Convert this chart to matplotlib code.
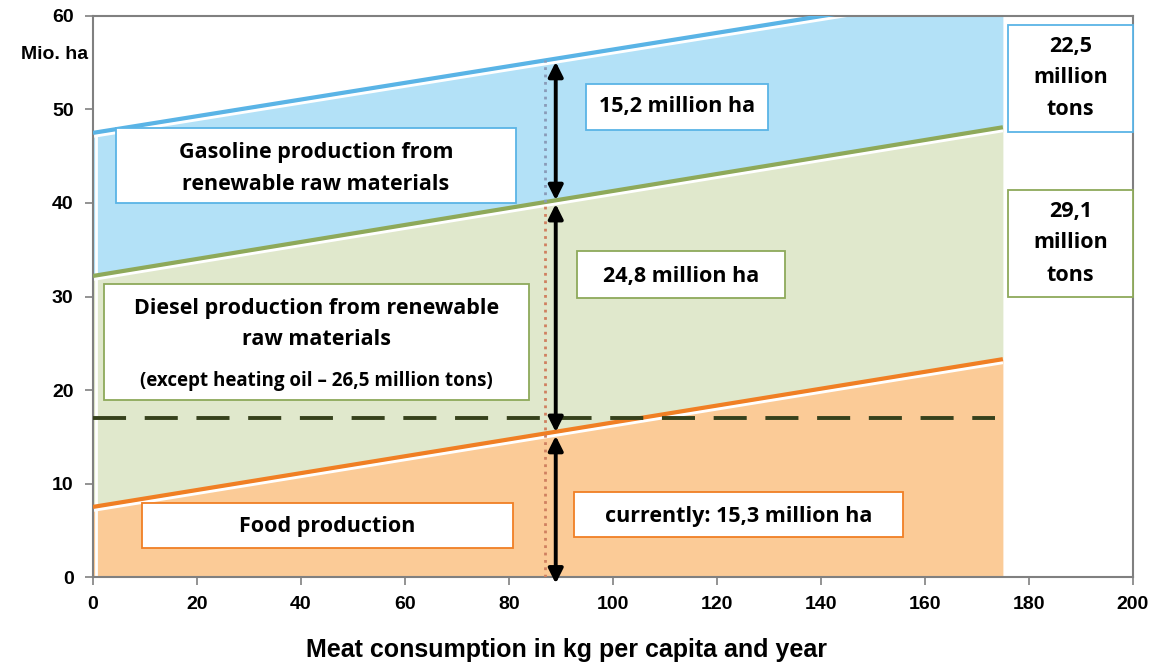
import numpy as np
import matplotlib.pyplot as plt
from matplotlib.patches import Rectangle

# land demand (Mio. ha) over meat consumption (kg per capita and year)
meat = [0, 175]
food = [7.5, 23.3]
diesel = [32.2, 48.1]
gasoline = [47.5, 63.1]
heating_oil_level = 17.0
current_meat = 87
current_food = 15.3
current_diesel = 40.1
current_gasoline = 55.3

C_ORANGE, F_ORANGE = '#f07f24', '#fbcb97'
C_GREEN, F_GREEN = '#8ea95a', '#e0e8cc'
C_BLUE, F_BLUE = '#5ab4e6', '#b3e1f7'

plt.rcParams['font.family'] = ['Liberation Sans', 'DejaVu Sans']
BOX_FONT = ['Open Sans', 'DejaVu Sans']
BIG = 15.5
SMALL = 13.5

fig = plt.figure(figsize=(11.58, 6.66), dpi=100)
ax = fig.add_axes([0.0803, 0.1336, 0.898, 0.8424])

# stacked areas
ax.fill_between(meat, 0, food, color=F_ORANGE, lw=0, zorder=1)
ax.fill_between(meat, food, diesel, color=F_GREEN, lw=0, zorder=1)
ax.fill_between(meat, diesel, gasoline, color=F_BLUE, lw=0, zorder=1)
ax.axvline(0.6, color='white', lw=2, zorder=1.5)

# boundary lines with a white seam underneath
for ys, col in [(food, C_ORANGE), (diesel, C_GREEN), (gasoline, C_BLUE)]:
    ax.plot(meat, np.array(ys) - 0.35, color='white', lw=2.5, zorder=2,
            solid_capstyle='butt')
    ax.plot(meat, ys, color=col, lw=3, zorder=3, solid_capstyle='butt')

# heating oil threshold
ax.plot([0, 173.5], [heating_oil_level] * 2, color='#36411c', lw=2.8,
        dashes=(8.5, 4.8), zorder=4)

# current consumption marker
ax.plot([current_meat] * 2, [current_diesel, current_gasoline], color='#8a9bb8',
        lw=2, ls=':', zorder=4)
ax.plot([current_meat] * 2, [0, current_diesel], color='#d08060',
        lw=2, ls=':', zorder=4)

arrow_x = current_meat + 2
for y0, y1 in [(-0.9, current_food), (current_food, current_diesel),
               (current_diesel, current_gasoline)]:
    ax.annotate('', xy=(arrow_x, y1 - 0.2), xytext=(arrow_x, y0 + 0.2),
                arrowprops=dict(arrowstyle='<|-|>', color='black', lw=2.8,
                                mutation_scale=22, shrinkA=0, shrinkB=0),
                zorder=5, annotation_clip=False)


def label_box(x0, x1, y0, y1, edge, lines, sizes, ys):
    ax.add_patch(Rectangle((x0, y0), x1 - x0, y1 - y0, facecolor='white',
                           edgecolor=edge, lw=1.3, zorder=6, clip_on=False))
    for txt, fs, yy in zip(lines, sizes, ys):
        ax.text((x0 + x1) / 2, yy, txt, ha='center', va='center', fontsize=fs,
                fontweight='bold', family=BOX_FONT, zorder=7, clip_on=False)


def px(x):
    return (x - 93) / 5.2


def py(y):
    return (577 - y) / 9.35


label_box(px(116), px(516), py(203), py(128), C_BLUE,
          ['Gasoline production from', 'renewable raw materials'],
          [BIG, BIG], [py(153), py(185)])
label_box(px(586), px(768), py(130), py(84), C_BLUE,
          ['15,2 million ha'], [BIG], [py(107)])
label_box(px(1008), px(1133), py(132), py(25), C_BLUE,
          ['22,5', 'million', 'tons'], [BIG] * 3, [py(47), py(78), py(110)])
label_box(px(1008), px(1133), py(297), py(190), C_GREEN,
          ['29,1', 'million', 'tons'], [BIG] * 3, [py(212), py(243), py(275)])
label_box(px(104), px(529), py(400), py(284), C_GREEN,
          ['Diesel production from renewable', 'raw materials',
           '(except heating oil \u2013 26,5 million tons)'],
          [BIG, BIG, SMALL], [py(308), py(339), py(381)])
label_box(px(577), px(785), py(298), py(251), C_GREEN,
          ['24,8 million ha'], [BIG], [py(276)])
label_box(px(142), px(513), py(548), py(503), C_ORANGE,
          ['Food production'], [BIG], [py(526)])
label_box(px(574), px(903), py(537), py(492), C_ORANGE,
          ['currently: 15,3 million ha'], [BIG], [py(516)])

ax.set_xlim(0, 200)
ax.set_ylim(0, 60)
ax.set_xticks(range(0, 201, 20))
ax.set_yticks(range(0, 61, 10))
for s in ax.spines.values():
    s.set_color('#808080')
    s.set_linewidth(1.5)
ax.tick_params(direction='out', length=6, width=1.2, color='#808080',
               labelsize=14, pad=8)
for lab in ax.get_xticklabels() + ax.get_yticklabels():
    lab.set_fontweight('bold')

ax.text(-1.0, py(55), 'Mio. ha', ha='right', va='center', fontsize=14,
        fontweight='bold')
fig.text(567 / 1158, 1 - 650 / 666, 'Meat consumption in kg per capita and year',
         ha='center', va='center', fontsize=18, fontweight='bold')

fig.savefig('out.png', dpi=100)
